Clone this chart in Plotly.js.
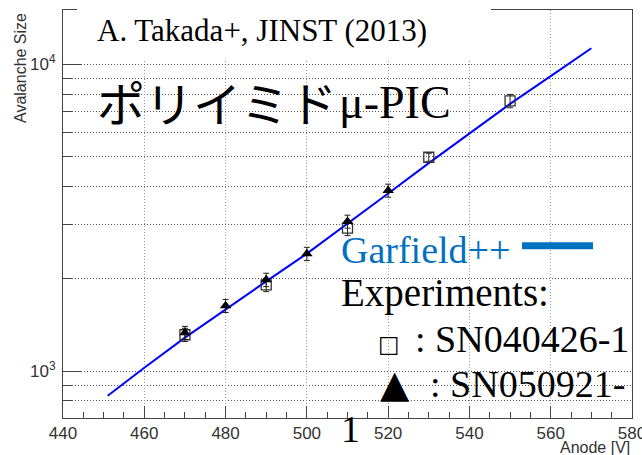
<!DOCTYPE html>
<html>
<head>
<meta charset="utf-8">
<script src="https://cdn.plot.ly/plotly-3.0.1.min.js"></script>
<style>html,body{margin:0;padding:0;background:#fff;}#chart{width:642px;height:455px;}</style>
</head>
<body>
<div id="chart"></div>
<script>
// ---- data ----
const simAnode = [451, 460, 470, 480, 490, 500, 510, 520, 530, 540, 550, 560, 570];
const simGain  = [831, 1025, 1285, 1590, 1960, 2415, 3020, 3790, 4760, 5960, 7430, 9150, 11275];

const sqAnode = [470, 490, 510, 530, 550];
const sqGain  = [1313, 1910, 2923, 4977, 7595];
const sqErr   = [65, 95, 160, 150, 380];

const triAnode = [470, 480, 490, 500, 510, 520];
const triGain  = [1333, 1632, 1984, 2411, 3072, 3876];
const triErr   = [65, 80, 100, 120, 150, 190];

const xTickVals = [440, 460, 480, 500, 520, 540, 560, 580];
const yTickVals = [1000, 10000];
const yTickText = ['10<sup>3</sup>', '10<sup>4</sup>'];
const yMinorVals = [800, 900, 2000, 3000, 4000, 5000, 6000, 7000, 8000, 9000, 20000];

// ---- layout helpers (pixel -> paper) ----
const W = 642, H = 455, L = 63, R = 10, T = 10, B = 37;
const PW = W - L - R, PH = H - T - B;
const px = v => (v - L) / PW;
const py = v => (H - B - v) / PH;

const serif = 'Liberation Serif, Times New Roman, serif';
const sans = 'Liberation Sans, Arial, sans-serif';

const traces = [
  {x: simAnode, y: simGain, mode: 'lines', type: 'scatter',
   line: {color: '#0000ff', width: 2}, hoverinfo: 'skip'},
  {x: sqAnode, y: sqGain, mode: 'markers', type: 'scatter',
   marker: {symbol: 'square-open', size: 10, color: '#333', line: {width: 1.3, color: '#333'}},
   error_y: {type: 'data', array: sqErr, color: '#222', thickness: 1, width: 3}},
  {x: triAnode, y: triGain, mode: 'markers', type: 'scatter',
   marker: {symbol: 'triangle-up', size: 10, color: '#000'},
   error_y: {type: 'data', array: triErr, color: '#222', thickness: 1, width: 3}}
];

function legendLine(text, xpx, basePx, size, color, extra) {
  return Object.assign({
    text: text, xref: 'paper', yref: 'paper', x: px(xpx), y: py(basePx + 0.216 * size + 1),
    xanchor: 'left', yanchor: 'bottom', showarrow: false, borderpad: 0,
    font: {family: serif, size: size, color: color || '#000'}
  }, extra || {});
}

const LS = 38;
const annotations = [
  legendLine('A. Takada+, JINST (2013)', 96, 41.7, 31),
  {text: 'ポリイミド', xref: 'paper', yref: 'paper', x: px(96), y: py(101), xanchor: 'left', yanchor: 'middle',
   showarrow: false, borderpad: 0, font: {family: 'Noto Sans CJK JP', size: 48, color: '#000'}},
  legendLine('μ-PIC', 338, 118, 46),
  legendLine('Garfield++', 340, 262.7, LS, '#0070c0'),
  legendLine('Experiments:', 340, 306.7, 39),
  {text: '□', xref: 'paper', yref: 'paper', x: px(388.5), y: py(343.5), xanchor: 'center', yanchor: 'middle',
   showarrow: false, borderpad: 0, font: {family: 'DejaVu Sans', size: 23, color: '#000'}},
  legendLine(': SN040426-1', 414, 351.7, LS),
  {text: '▲', xref: 'paper', yref: 'paper', x: px(395), y: py(384), xanchor: 'center', yanchor: 'middle',
   showarrow: false, borderpad: 0, font: {family: 'DejaVu Sans', size: 38, color: '#000'}},
  legendLine(': SN050921-', 429, 396.7, LS),
  legendLine('1', 340, 441.7, LS),
  {text: 'Avalanche Size', xref: 'paper', yref: 'paper', x: px(20), y: py(68), textangle: -90,
   xanchor: 'center', yanchor: 'middle', showarrow: false, borderpad: 0,
   font: {family: sans, size: 16, color: '#333'}},
  {text: 'Anode [V]', xref: 'paper', yref: 'paper', x: px(631), y: py(453 + 0.212 * 16 + 1),
   xanchor: 'right', yanchor: 'bottom', showarrow: false, borderpad: 0,
   font: {family: sans, size: 16, color: '#333'}}
];

const shapes = [
  {type: 'rect', xref: 'paper', yref: 'paper', x0: px(77), x1: px(491), y0: py(61), y1: py(0),
   fillcolor: '#ffffff', line: {width: 0}, layer: 'above'},
  {type: 'line', xref: 'paper', yref: 'paper', x0: px(522), x1: px(593), y0: py(245.7), y1: py(245.7),
   line: {color: '#0070c0', width: 7}, layer: 'above'}
];

const layout = {
  width: W, height: H,
  margin: {l: L, r: R, t: T, b: B, pad: 0},
  paper_bgcolor: '#fff', plot_bgcolor: '#fff',
  showlegend: false,
  xaxis: {
    range: [440, 580], tickmode: 'array', tickvals: xTickVals,
    ticks: 'inside', ticklen: 12, tickcolor: '#444', tickwidth: 1,
    showline: true, linecolor: '#444', linewidth: 1, mirror: true,
    showgrid: true, gridcolor: '#999', gridwidth: 1, griddash: '1px,2px',
    zeroline: false, ticklabelstandoff: 0, ticklabeloverflow: 'allow',
    tickfont: {family: sans, size: 17, color: '#333'},
    minor: {dtick: 5, tick0: 440, ticks: 'inside', ticklen: 6, tickcolor: '#444', showgrid: false}
  },
  yaxis: {
    type: 'log', range: [2.8469, 4.1769], tickmode: 'array', tickvals: yTickVals, ticktext: yTickText,
    ticks: 'inside', ticklen: 18, tickcolor: '#444', tickwidth: 1,
    showline: true, linecolor: '#444', linewidth: 1, mirror: true,
    showgrid: true, gridcolor: '#555', gridwidth: 1, griddash: '1px,2px',
    zeroline: false, ticklabelstandoff: 3,
    tickfont: {family: sans, size: 17, color: '#333'},
    minor: {tickmode: 'array', tickvals: yMinorVals, ticks: 'inside', ticklen: 9, tickcolor: '#444',
            showgrid: true, gridcolor: '#555', gridwidth: 1, griddash: '1px,2px'}
  },
  annotations: annotations,
  shapes: shapes
};

Plotly.newPlot('chart', traces, layout, {displayModeBar: false, staticPlot: true});
</script>
</body>
</html>
